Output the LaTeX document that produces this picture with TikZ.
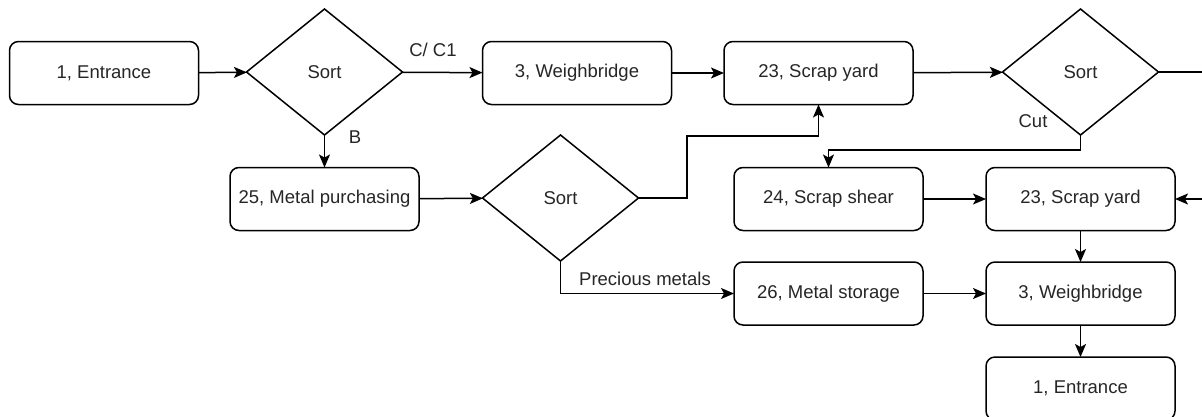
\documentclass[tikz,border=0pt]{standalone}
\usepackage{fontspec}
\setmainfont{Liberation Sans}
\usetikzlibrary{shapes.geometric,arrows.meta}
\begin{document}
\begin{tikzpicture}[x=1pt,y=-1pt,
  every node/.style={text=black!85, font=\fontsize{18.5}{22}\selectfont},
  box/.style={draw=black, line width=1.5pt, rounded corners=9pt, minimum width=189pt, minimum height=63pt, inner sep=0pt, outer sep=0pt},
  dec/.style={draw=black, line width=1.5pt, diamond, minimum width=156pt, minimum height=126pt, inner sep=0pt, outer sep=0pt},
  conn/.style={draw=black, line width=1.5pt, -{Stealth[length=13pt,width=11pt,inset=3pt]}},
  line/.style={draw=black, line width=1.5pt},
  lbl/.style={inner sep=0pt}]
\useasboundingbox[fill=white] (0,0) rectangle (1202,416);
% nodes
\node[box] (e1) at (104,73) {1, Entrance};
\node[dec] (s1) at (324.5,72) {Sort};
\node[box] (w1) at (577,73) {3, Weighbridge};
\node[box] (sy1) at (818.5,73) {23, Scrap yard};
\node[dec] (s2) at (1080.5,72) {Sort};
\node[box] (mp) at (324.5,199) {25, Metal purchasing};
\node[dec] (s3) at (560.5,198) {Sort};
\node[box] (ss) at (828.5,199) {24, Scrap shear};
\node[box] (sy2) at (1080.5,199) {23, Scrap yard};
\node[box] (ms) at (828.5,293.5) {26, Metal storage};
\node[box] (w2) at (1080.5,293.5) {3, Weighbridge};
\node[box] (e2) at (1080.5,388.5) {1, Entrance};
% helper coordinates
\coordinate (j1) at (687,136);
\coordinate (j2) at (1080.5,150);
\coordinate (outR) at (1203,72);
\coordinate (inR) at (1203,199);
% connectors
\draw[conn] (e1) -- (s1);
\draw[conn] (s1) -- (w1);
\draw[conn] (w1) -- (sy1);
\draw[conn] (sy1) -- (s2);
\draw[line] (s2.east) -- (outR);
\draw[conn] (s1.south) -- (mp.north);
\draw[conn] (mp) -- (s3);
\draw[conn] (s3.east) -| (j1) -| (sy1.south);
\draw[conn] (s2.south) -- (j2) -| (ss.north);
\draw[conn] (ss) -- (sy2);
\draw[conn] (inR) -- (sy2.east);
\draw[conn] (sy2) -- (w2);
\draw[conn] (s3.south) |- (ms.west);
\draw[conn] (ms) -- (w2);
\draw[conn] (w2) -- (e2);
% labels
\node[lbl] (lc) at (433,50) {C/ C1};
\node[lbl] (lb) at (355,137) {B};
\node[lbl] (lcut) at (1033,121) {Cut};
\node[lbl] (lpm) at (645,279) {Precious metals};
\end{tikzpicture}
\end{document}
